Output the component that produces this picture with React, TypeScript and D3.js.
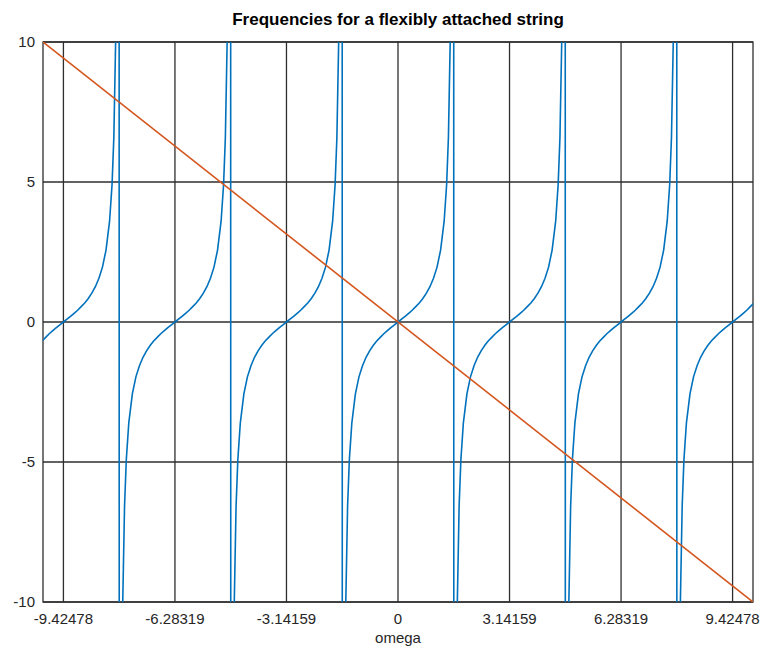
import * as d3 from 'd3';
import React, { useEffect, useRef } from 'react';

// tick positions (multiples of pi) and labels as octave prints them
const xTicks = [-9.42478, -6.28319, -3.14159, 0, 3.14159, 6.28319, 9.42478];
const xTickLabels = ['-9.42478', '-6.28319', '-3.14159', '0', '3.14159', '6.28319', '9.42478'];
const yTicks = [-10, -5, 0, 5, 10];
const yTickLabels = ['-10', '-5', '0', '5', '10'];

// blue curve: same branch shape repeated around each zero crossing
const branchCenters = [-9.42478, -6.28319, -3.14159, 0, 3.14159, 6.28319, 9.42478];
const branchOffsets = [-1.5608, -1.52, -1.47, -1.42, -1.37, -1.3, -1.2, -1.1, -1.0, -0.9, -0.8, -0.7, -0.6, -0.5, -0.4, -0.3, -0.2, -0.1, 0,
  0.1, 0.2, 0.3, 0.4, 0.5, 0.6, 0.7, 0.8, 0.9, 1.0, 1.1, 1.2, 1.3, 1.37, 1.42, 1.47, 1.52, 1.5608];
const branchValues = [-100, -20.3, -9.97, -6.58, -4.91, -3.6, -2.57, -1.96, -1.56, -1.26, -1.03, -0.84, -0.68, -0.55, -0.42, -0.31, -0.2, -0.1, 0,
  0.1, 0.2, 0.31, 0.42, 0.55, 0.68, 0.84, 1.03, 1.26, 1.56, 1.96, 2.57, 3.6, 4.91, 6.58, 9.97, 20.3, 100];

// orange straight line
const lineX = [-10, 10];
const lineY = [10, -10];

const W = 763, H = 649;
const margin = { top: 42, right: 10, bottom: 47, left: 43 };
const font = '"Liberation Sans", Arial, Helvetica, sans-serif';

const App = () => {
  const ref = useRef<SVGSVGElement>(null);

  useEffect(() => {
    const svg = d3.select(ref.current);
    svg.selectAll('*').remove();

    const x = d3.scaleLinear().domain([-10, 10]).range([margin.left, W - margin.right]);
    const y = d3.scaleLinear().domain([-10, 10]).range([H - margin.bottom, margin.top]);

    svg.append('defs').append('clipPath').attr('id', 'plot-clip')
      .append('rect')
      .attr('x', margin.left).attr('y', margin.top)
      .attr('width', W - margin.left - margin.right)
      .attr('height', H - margin.top - margin.bottom);

    // grid
    const grid = svg.append('g').attr('stroke', '#2e2e2e').attr('stroke-width', 1.3);
    grid.selectAll('.gx').data(xTicks).join('line')
      .attr('x1', d => x(d)).attr('x2', d => x(d))
      .attr('y1', margin.top).attr('y2', H - margin.bottom);
    grid.selectAll('.gy').data(yTicks).join('line')
      .attr('y1', d => y(d)).attr('y2', d => y(d))
      .attr('x1', margin.left).attr('x2', W - margin.right);

    // box
    svg.append('rect')
      .attr('x', margin.left).attr('y', margin.top)
      .attr('width', W - margin.left - margin.right)
      .attr('height', H - margin.top - margin.bottom)
      .attr('fill', 'none').attr('stroke', '#2e2e2e').attr('stroke-width', 1.3);

    const pts: [number, number][] = [];
    branchCenters.forEach(c => {
      branchOffsets.forEach((o, i) => pts.push([c + o, branchValues[i]]));
    });

    const line = d3.line<[number, number]>().x(d => x(d[0])).y(d => y(d[1]));
    const plot = svg.append('g').attr('clip-path', 'url(#plot-clip)');
    plot.append('path').datum(pts)
      .attr('fill', 'none').attr('stroke', '#0072BD').attr('stroke-width', 1.6)
      .attr('d', line);
    plot.append('path').datum(lineX.map((v, i) => [v, lineY[i]] as [number, number]))
      .attr('fill', 'none').attr('stroke', '#D4561E').attr('stroke-width', 1.6)
      .attr('d', line);

    // tick labels
    svg.append('g').selectAll('text').data(xTicks).join('text')
      .attr('x', d => x(d)).attr('y', H - margin.bottom + 22)
      .attr('text-anchor', 'middle')
      .style('font-family', font).style('font-size', '15px').attr('fill', '#262626')
      .text((d, i) => xTickLabels[i]);
    svg.append('g').selectAll('text').data(yTicks).join('text')
      .attr('x', margin.left - 8).attr('y', d => y(d) + 5)
      .attr('text-anchor', 'end')
      .style('font-family', font).style('font-size', '15px').attr('fill', '#262626')
      .text((d, i) => yTickLabels[i]);

    svg.append('text')
      .attr('x', x(0)).attr('y', H - 6)
      .attr('text-anchor', 'middle')
      .style('font-family', font).style('font-size', '15px').attr('fill', '#262626')
      .text('omega');

    svg.append('text')
      .attr('x', x(0)).attr('y', 25)
      .attr('text-anchor', 'middle')
      .style('font-family', font).style('font-size', '17px').style('font-weight', 'bold').attr('fill', '#000')
      .text('Frequencies for a flexibly attached string');
  }, []);

  return (
    <svg ref={ref} width={W} height={H}
      style={{ position: 'absolute', left: 0, top: 0, background: '#fff' }} />
  );
};

export default App;
